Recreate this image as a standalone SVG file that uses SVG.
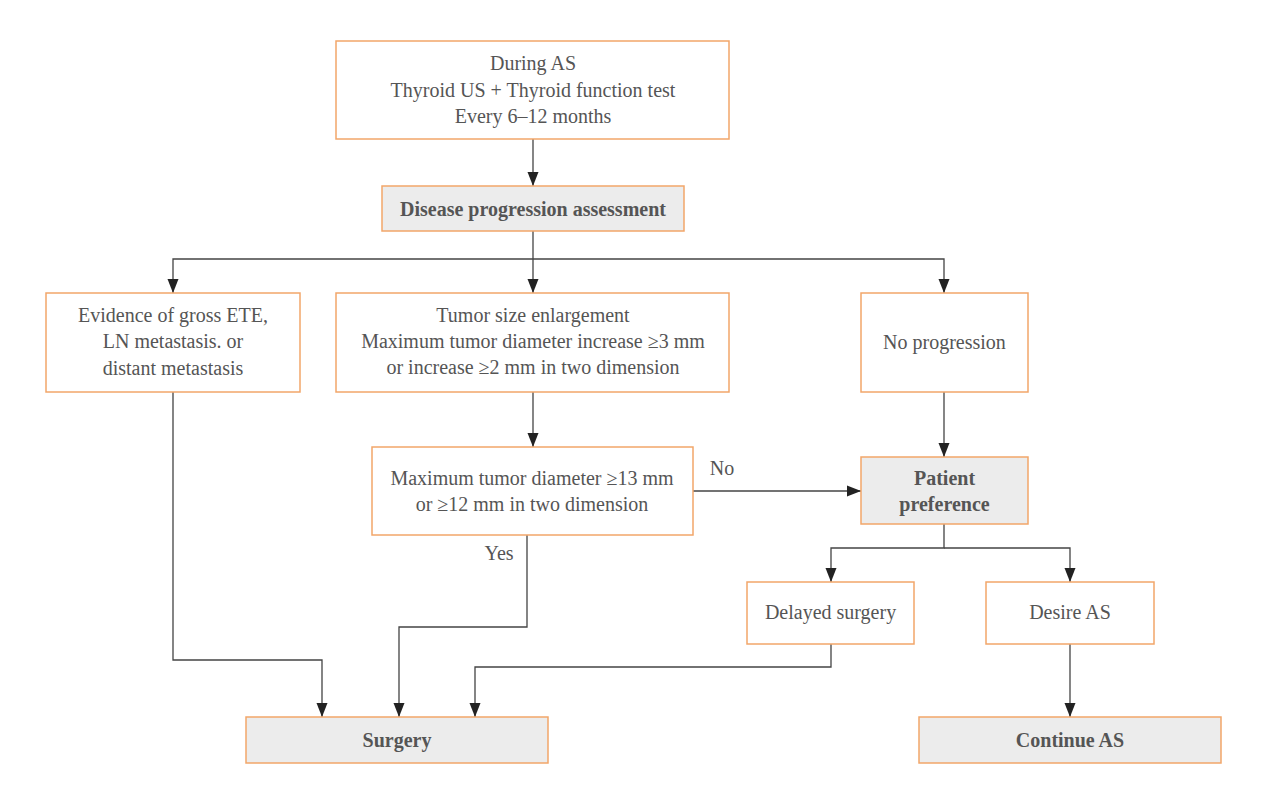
<svg xmlns="http://www.w3.org/2000/svg" width="1271" height="800" viewBox="0 0 1271 800">
<style>
.box{fill:#ffffff;stroke:#f2a66a;stroke-width:1.5}
.key{fill:#ececec;stroke:#f2a66a;stroke-width:1.5}
text{font-family:'Liberation Serif','DejaVu Serif',serif;font-size:20px;fill:#555555;text-anchor:middle}
.b{font-weight:bold}
.c{fill:none;stroke:#444444;stroke-width:1.3;marker-end:url(#ah)}
</style>
<defs>
<marker id="ah" markerUnits="userSpaceOnUse" markerWidth="14" markerHeight="12" refX="14" refY="6" orient="auto" viewBox="0 0 14 12">
<path d="M0,0.5 L14,6 L0,11.5 z" fill="#222222"/>
</marker>
</defs>
<rect width="1271" height="800" fill="#ffffff"/>
<g id="connectors" font-family="Liberation Serif, DejaVu Serif, serif">
<path class="c" d="M533,139 V186"/>
<path class="c" d="M533,231 V293"/>
<path class="c" d="M533,259 H173 V293"/>
<path class="c" d="M533,259 H944 V293"/>
<path class="c" d="M533,392 V447"/>
<path class="c" d="M944,392 V457"/>
<path class="c" d="M693,491 H861"/>
<path class="c" d="M944,524 V548 H831 V582"/>
<path class="c" d="M944,548 H1070 V582"/>
<path class="c" d="M173,392 V660 H322 V717"/>
<path class="c" d="M527,535 V627 H399 V717"/>
<path class="c" d="M831,644 V667 H475 V717"/>
<path class="c" d="M1070,644 V717"/>
<text x="722" y="475">No</text>
<text x="499" y="560">Yes</text>
</g>
<g id="n-start">
<rect class="box" x="336" y="41" width="393" height="98"/>
<text x="533" y="70">During AS</text>
<text x="533" y="97">Thyroid US + Thyroid function test</text>
<text x="533" y="123">Every 6–12 months</text>
</g>
<g id="n-assess">
<rect class="key" x="382" y="186" width="302" height="45"/>
<text class="b" x="533" y="216">Disease progression assessment</text>
</g>
<g id="n-evidence">
<rect class="box" x="46" y="293" width="254" height="99"/>
<text x="173" y="322">Evidence of gross ETE,</text>
<text x="173" y="348">LN metastasis. or</text>
<text x="173" y="375">distant metastasis</text>
</g>
<g id="n-tumor">
<rect class="box" x="336" y="293" width="393" height="99"/>
<text x="533" y="322">Tumor size enlargement</text>
<text x="533" y="348">Maximum tumor diameter increase ≥3 mm</text>
<text x="533" y="374">or increase ≥2 mm in two dimension</text>
</g>
<g id="n-noprog">
<rect class="box" x="861" y="293" width="167" height="99"/>
<text x="944.5" y="349">No progression</text>
</g>
<g id="n-max">
<rect class="box" x="372" y="447" width="321" height="88"/>
<text x="532" y="485">Maximum tumor diameter ≥13 mm</text>
<text x="532" y="511">or ≥12 mm in two dimension</text>
</g>
<g id="n-patient">
<rect class="key" x="861" y="457" width="167" height="67"/>
<text class="b" x="944.5" y="485">Patient</text>
<text class="b" x="944.5" y="511">preference</text>
</g>
<g id="n-delayed">
<rect class="box" x="747" y="582" width="167" height="62"/>
<text x="830.5" y="619">Delayed surgery</text>
</g>
<g id="n-desire">
<rect class="box" x="986" y="582" width="168" height="62"/>
<text x="1070" y="619">Desire AS</text>
</g>
<g id="n-surgery">
<rect class="key" x="246" y="717" width="302" height="46"/>
<text class="b" x="397" y="747">Surgery</text>
</g>
<g id="n-continue">
<rect class="key" x="919" y="717" width="302" height="46"/>
<text class="b" x="1070" y="747">Continue AS</text>
</g>
</svg>
